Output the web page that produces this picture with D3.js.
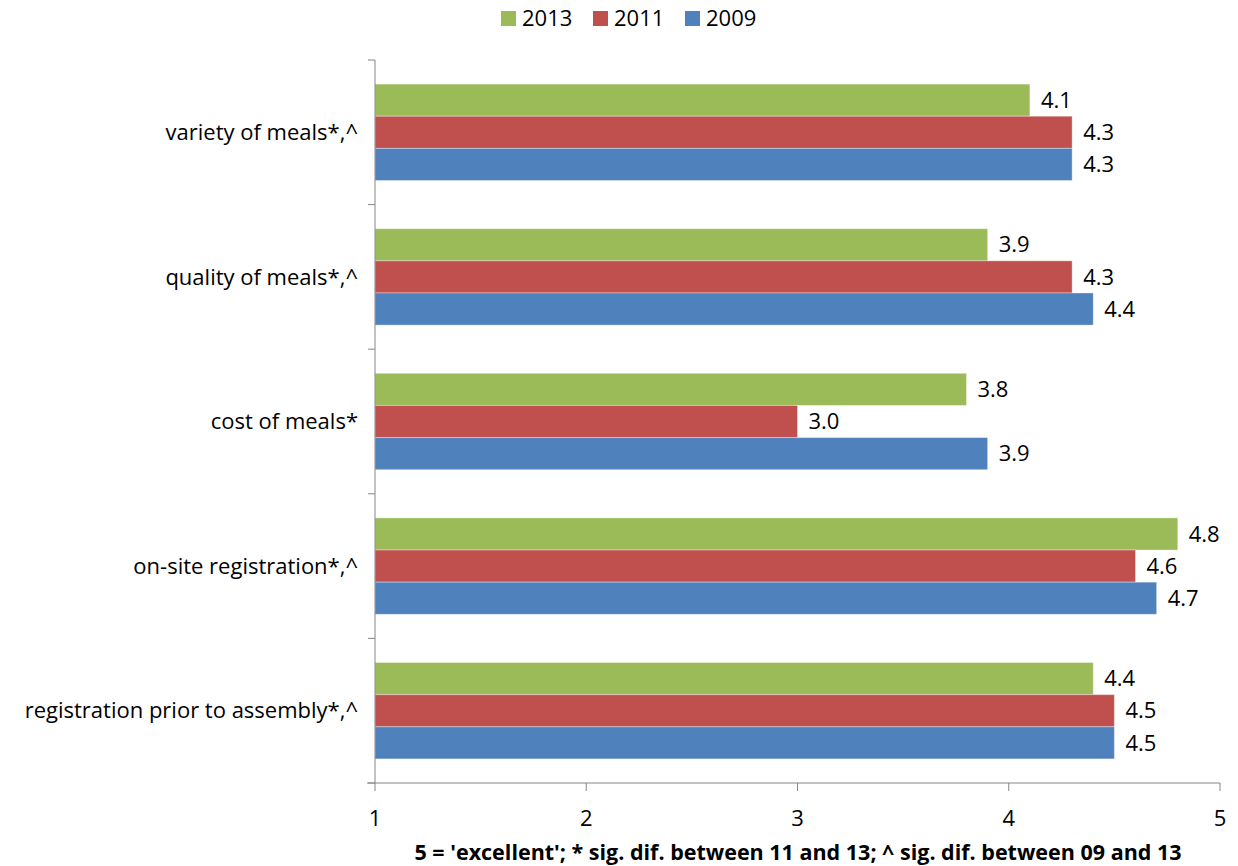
<!DOCTYPE html>
<html lang="en">
<head>
  <meta charset="UTF-8">
  <title>Meals and registration ratings</title>
  <script src="https://d3js.org/d3.v7.min.js"></script>
  <style>
    body { margin: 0; background: #fff; }
    text { font-family: "Open Sans", "Noto Sans", sans-serif; fill: #000; }
  </style>
</head>
<body>
  <div id="chart"></div>

  <script>
    // data (top to bottom)
    const categories = [
      "variety of meals*,^",
      "quality of meals*,^",
      "cost of meals*",
      "on-site registration*,^",
      "registration prior to assembly*,^"
    ];
    const seriesNames = ["2013", "2011", "2009"];
    const values2013 = [4.1, 3.9, 3.8, 4.8, 4.4];
    const values2011 = [4.3, 4.3, 3.0, 4.6, 4.5];
    const values2009 = [4.3, 4.4, 3.9, 4.7, 4.5];
    const xTicks = [1, 2, 3, 4, 5];
    const xTitle = "5 = 'excellent'; * sig. dif. between 11 and 13; ^ sig. dif. between 09 and 13";

    const colors = { "2013": "#9BBB59", "2011": "#C0504D", "2009": "#4F81BD" };
    const seriesValues = { "2013": values2013, "2011": values2011, "2009": values2009 };

    const W = 1238, H = 866;
    const margin = { top: 60, right: 18, bottom: 83, left: 375 };
    const height = H - margin.top - margin.bottom;
    const fs = "22px";

    const svg = d3.select("#chart").append("svg")
      .attr("width", W)
      .attr("height", H);

    const g = svg.append("g")
      .attr("transform", `translate(${margin.left},${margin.top})`);

    const x = d3.scaleLinear().domain([1, 5]).range([0, 845]);

    const y = d3.scaleBand()
      .domain(categories)
      .range([0, height])
      .paddingInner(1 / 3)
      .paddingOuter(1 / 6);

    const ySub = d3.scaleBand()
      .domain(seriesNames)
      .range([0, y.bandwidth()]);

    // bars
    const groups = g.selectAll(".cat")
      .data(categories)
      .enter().append("g")
      .attr("class", "cat")
      .attr("transform", d => `translate(0,${y(d)})`);

    groups.selectAll("rect")
      .data((c, i) => seriesNames.map(s => ({ s, v: seriesValues[s][i] })))
      .enter().append("rect")
      .attr("x", 0)
      .attr("y", d => ySub(d.s))
      .attr("width", d => x(d.v) - x(1))
      .attr("height", ySub.bandwidth())
      .attr("fill", d => colors[d.s])
      .attr("stroke", "#ffffff")
      .attr("stroke-opacity", 0.35)
      .attr("stroke-width", 1);

    groups.selectAll(".val")
      .data((c, i) => seriesNames.map(s => ({ s, v: seriesValues[s][i] })))
      .enter().append("text")
      .attr("class", "val")
      .attr("x", d => x(d.v) - x(1) + 11)
      .attr("y", d => ySub(d.s) + ySub.bandwidth() / 2)
      .attr("dy", "0.35em")
      .style("font-size", fs)
      .text(d => d.v.toFixed(1));

    // y axis
    const yAxis = g.append("g");
    yAxis.append("line")
      .attr("x1", 0).attr("x2", 0)
      .attr("y1", 0).attr("y2", height)
      .attr("stroke", "#868686");
    const yTickPos = d3.range(categories.length + 1).map(i => i * y.step());
    yAxis.selectAll(".yt")
      .data(yTickPos)
      .enter().append("line")
      .attr("x1", -7).attr("x2", 0)
      .attr("y1", d => d).attr("y2", d => d)
      .attr("stroke", "#868686");
    yAxis.selectAll(".ylab")
      .data(categories)
      .enter().append("text")
      .attr("x", -17)
      .attr("y", d => y(d) + y.bandwidth() / 2)
      .attr("dy", "0.35em")
      .attr("text-anchor", "end")
      .style("font-size", fs)
      .text(d => d);

    // x axis
    const xAxis = g.append("g").attr("transform", `translate(0,${height})`);
    xAxis.append("line")
      .attr("x1", -8).attr("x2", x(5))
      .attr("y1", 0).attr("y2", 0)
      .attr("stroke", "#868686");
    xAxis.selectAll(".xt")
      .data(xTicks)
      .enter().append("line")
      .attr("x1", d => x(d)).attr("x2", d => x(d))
      .attr("y1", 0).attr("y2", 8)
      .attr("stroke", "#868686");
    xAxis.selectAll(".xlab")
      .data(xTicks)
      .enter().append("text")
      .attr("x", d => x(d))
      .attr("y", 43)
      .attr("text-anchor", "middle")
      .style("font-size", fs)
      .text(d => d);

    svg.append("text")
      .attr("x", 798)
      .attr("y", 860)
      .attr("text-anchor", "middle")
      .style("font-size", "21.5px")
      .style("font-weight", "bold")
      .text(xTitle);

    // legend
    const legendX = [501, 593, 685];
    const legend = svg.selectAll(".legend")
      .data(seriesNames)
      .enter().append("g")
      .attr("class", "legend")
      .attr("transform", (d, i) => `translate(${legendX[i]},11)`);
    legend.append("rect")
      .attr("width", 15)
      .attr("height", 15)
      .attr("fill", d => colors[d]);
    legend.append("text")
      .attr("x", 21)
      .attr("y", 7.5)
      .attr("dy", "0.35em")
      .style("font-size", fs)
      .text(d => d);
  </script>
</body>
</html>
